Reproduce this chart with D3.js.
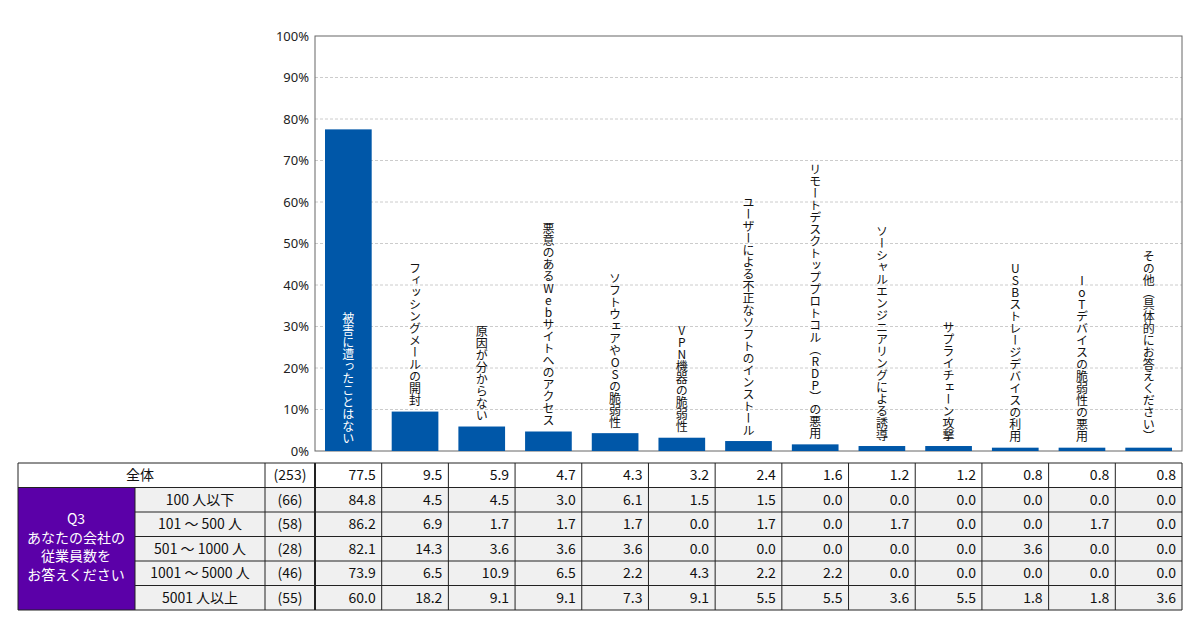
<!DOCTYPE html>
<html><head><meta charset="utf-8">
<script src="https://cdn.jsdelivr.net/npm/d3@7"></script>
<style>body{margin:0;background:#fff}svg{font-family:"Noto Sans CJK JP","Noto Sans",sans-serif}</style>
</head><body><svg id="c" width="1200" height="644"></svg>
<script>
const categories = ["被害に遭ったことはない","フィッシングメールの開封","原因が分からない","悪意のあるWebサイトへのアクセス","ソフトウェアやOSの脆弱性","VPN機器の脆弱性","ユーザーによる不正なソフトのインストール","リモートデスクトッププロトコル（RDP）の悪用","ソーシャルエンジニアリングによる誘導","サプライチェーン攻撃","USBストレージデバイスの利用","IoTデバイスの脆弱性の悪用","その他（具体的にお答えください）"];
const totalValues = [77.5,9.5,5.9,4.7,4.3,3.2,2.4,1.6,1.2,1.2,0.8,0.8,0.8];
const totalN = 253;
const groupLabels = ["100 人以下","101 〜 500 人","501 〜 1000 人","1001 〜 5000 人","5001 人以上"];
const groupN = [66,58,28,46,55];
const groupValues = [
 [84.8,4.5,4.5,3.0,6.1,1.5,1.5,0.0,0.0,0.0,0.0,0.0,0.0],
 [86.2,6.9,1.7,1.7,1.7,0.0,1.7,0.0,1.7,0.0,0.0,1.7,0.0],
 [82.1,14.3,3.6,3.6,3.6,0.0,0.0,0.0,0.0,0.0,3.6,0.0,0.0],
 [73.9,6.5,10.9,6.5,2.2,4.3,2.2,2.2,0.0,0.0,0.0,0.0,0.0],
 [60.0,18.2,9.1,9.1,7.3,9.1,5.5,5.5,3.6,5.5,1.8,1.8,3.6]
];
const yTicks = [0,10,20,30,40,50,60,70,80,90,100];

const svg = d3.select('#c');
const x0 = 315, x1 = 1182, yTop = 36, yBot = 451;
const x = d3.scaleBand().domain(categories).range([x0,x1]).paddingInner(0.3).paddingOuter(0.15);
const y = d3.scaleLinear().domain([0,100]).range([yBot,yTop]);

// grid
svg.append('g').selectAll('line').data(yTicks.filter(t=>t>0&&t<100)).join('line')
  .attr('x1',x0).attr('x2',x1).attr('y1',d=>y(d)).attr('y2',d=>y(d))
  .attr('stroke','#ccc').attr('stroke-dasharray','3,2');
svg.append('rect').attr('x',x0).attr('y',yTop).attr('width',x1-x0).attr('height',yBot-yTop)
  .attr('fill','none').attr('stroke','#666');
const ax = svg.append('g').attr('transform',`translate(${x0},0)`)
  .call(d3.axisLeft(y).tickValues(yTicks).tickFormat(d=>d+'%').tickSize(0).tickPadding(6));
ax.select('.domain').remove();
ax.selectAll('text').attr('font-size',13).attr('fill','#222').attr('font-family','"Noto Sans",sans-serif');

svg.append('g').selectAll('rect').data(totalValues).join('rect')
  .attr('x',(d,i)=>x(categories[i])).attr('width',x.bandwidth())
  .attr('y',d=>y(d)).attr('height',d=>yBot-y(d)).attr('fill','#0057a8');

svg.append('g').selectAll('text').data(categories).join('text')
  .attr('x',(d,i)=>x(d)+x.bandwidth()/2)
  .attr('y',(d,i)=> i===0 ? 312 : y(totalValues[i])-5)
  .attr('text-anchor',(d,i)=>i===0?'start':'end')
  .style('writing-mode','vertical-rl').style('text-orientation','upright')
  .attr('font-size',12).attr('fill',(d,i)=>i===0?'#fff':'#111')
  .text(d=>d);

// table
const tTop = 463, rh = 24.5;
const cw = (x1-x0)/categories.length;
const t = svg.append('g').attr('font-size',14).attr('fill','#111');
// backgrounds
t.append('rect').attr('x',18).attr('y',tTop).attr('width',x1-18).attr('height',rh).attr('fill','#fff');
groupLabels.forEach((g,r)=>{
  t.append('rect').attr('x',135).attr('y',tTop+rh*(r+1)).attr('width',x1-135).attr('height',rh).attr('fill','#f0f0f0');
});
t.append('rect').attr('x',18).attr('y',tTop+rh).attr('width',117).attr('height',rh*5).attr('fill','#5b00a8');
// lines
const rows = d3.range(7).map(r=>tTop+rh*r);
rows.forEach((yy,r)=>t.append('line').attr('x1',r===0||r===1||r===6?18:135).attr('x2',x1).attr('y1',yy).attr('y2',yy).attr('stroke','#222').attr('stroke-width',1));
[18,265,315].concat(d3.range(1,14).map(i=>x0+cw*i)).forEach(xx=>
  t.append('line').attr('x1',xx).attr('x2',xx).attr('y1',tTop).attr('y2',tTop+rh*6).attr('stroke','#222').attr('stroke-width',xx===315?2:1));
t.append('line').attr('x1',135).attr('x2',135).attr('y1',tTop+rh).attr('y2',tTop+rh*6).attr('stroke','#222');
const cellText = (xx,yy,s,anchor)=>t.append('text').attr('x',xx).attr('y',yy+rh/2).attr('dy','0.35em').attr('text-anchor',anchor).text(s);
cellText(140,tTop,'全体','middle');
cellText(290,tTop,`(${totalN})`,'middle');
totalValues.forEach((v,i)=>cellText(x0+cw*(i+1)-6,tTop,v.toFixed(1),'end'));
groupLabels.forEach((g,r)=>{
  const yy=tTop+rh*(r+1);
  cellText(200,yy,g,'middle');
  cellText(290,yy,`(${groupN[r]})`,'middle');
  groupValues[r].forEach((v,i)=>cellText(x0+cw*(i+1)-6,yy,v.toFixed(1),'end'));
});
["Q3","あなたの会社の","従業員数を","お答えください"].forEach((s,k)=>
  t.append('text').attr('x',76).attr('y',524+k*18.5).attr('text-anchor','middle').attr('fill','#fff').attr('font-size',14).text(s));
</script></body></html>
